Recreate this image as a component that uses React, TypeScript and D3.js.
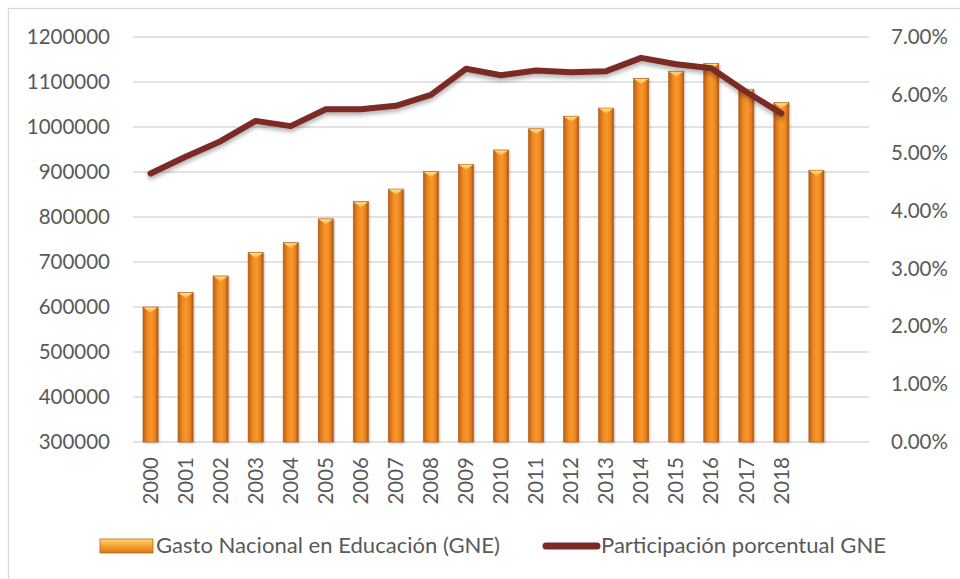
import { useEffect, useRef } from 'react';
import * as d3 from 'd3';

// categories (last two slots have no label)
const years = ['2000', '2001', '2002', '2003', '2004', '2005', '2006', '2007', '2008', '2009',
    '2010', '2011', '2012', '2013', '2014', '2015', '2016', '2017', '2018', '', ''];

// Gasto Nacional en Educación (GNE)
const gasto = [600000, 632000, 669000, 721000, 743000, 796000, 834000, 862000, 901000, 917000,
    949000, 996000, 1024000, 1042000, 1108000, 1124000, 1141000, 1084000, 1054000, 904000];

// Participación porcentual GNE (%)
const participacion = [4.64, 4.93, 5.20, 5.55, 5.46, 5.75, 5.75, 5.81, 6.00, 6.45,
    6.34, 6.42, 6.39, 6.41, 6.64, 6.53, 6.46, 6.05, 5.68];

const leftTicks = [300000, 400000, 500000, 600000, 700000, 800000, 900000, 1000000, 1100000, 1200000];
const rightTicks = [0, 1, 2, 3, 4, 5, 6, 7];

const barLabel = 'Gasto Nacional en Educación (GNE)';
const lineLabel = 'Participación porcentual GNE';

export default function App() {
    const ref = useRef<SVGSVGElement>(null);

    useEffect(() => {
        const width = 960;
        const height = 579;
        const left = 133;
        const right = 869;
        const top = 37;
        const bottom = 442;
        const font = 'Lato, "Open Sans", sans-serif';
        const textColor = '#595959';

        const svg = d3.select(ref.current);
        svg.selectAll('*').remove();

        const defs = svg.append('defs');

        // bar gradient (darker edges, light middle)
        const barGrad = defs.append('linearGradient').attr('id', 'barGrad')
            .attr('x1', '0%').attr('x2', '100%').attr('y1', '0%').attr('y2', '0%');
        barGrad.append('stop').attr('offset', '0%').attr('stop-color', '#B95E16');
        barGrad.append('stop').attr('offset', '30%').attr('stop-color', '#EE8A22');
        barGrad.append('stop').attr('offset', '55%').attr('stop-color', '#F9972C');
        barGrad.append('stop').attr('offset', '80%').attr('stop-color', '#E98320');
        barGrad.append('stop').attr('offset', '100%').attr('stop-color', '#A95512');

        const capGrad = defs.append('linearGradient').attr('id', 'capGrad')
            .attr('x1', '0%').attr('x2', '0%').attr('y1', '0%').attr('y2', '100%');
        capGrad.append('stop').attr('offset', '0%').attr('stop-color', '#FFE08A');
        capGrad.append('stop').attr('offset', '100%').attr('stop-color', '#F6B23A');

        const legGrad = defs.append('linearGradient').attr('id', 'legGrad')
            .attr('x1', '0%').attr('x2', '0%').attr('y1', '0%').attr('y2', '100%');
        legGrad.append('stop').attr('offset', '0%').attr('stop-color', '#FFD874');
        legGrad.append('stop').attr('offset', '45%').attr('stop-color', '#F7A633');
        legGrad.append('stop').attr('offset', '100%').attr('stop-color', '#D9741A');

        const shadow = defs.append('filter').attr('id', 'lineShadow')
            .attr('x', '-5%').attr('y', '-20%').attr('width', '110%').attr('height', '160%');
        shadow.append('feDropShadow').attr('dx', 0).attr('dy', 3).attr('stdDeviation', 2)
            .attr('flood-color', '#000').attr('flood-opacity', 0.3);

        const barShadow = defs.append('filter').attr('id', 'barShadow')
            .attr('x', '-30%').attr('y', '-5%').attr('width', '160%').attr('height', '110%');
        barShadow.append('feDropShadow').attr('dx', 1).attr('dy', 1).attr('stdDeviation', 1.2)
            .attr('flood-color', '#000').attr('flood-opacity', 0.25);

        // chart border
        svg.append('rect')
            .attr('x', 8.5).attr('y', 8.5)
            .attr('width', width).attr('height', height)
            .attr('fill', '#fff')
            .attr('stroke', '#D9D9D9')
            .attr('stroke-width', 1.3);

        // scales
        const x = d3.scaleBand<number>()
            .domain(years.map((d, i) => i))
            .range([left, right]);

        const yLeft = d3.scaleLinear().domain([300000, 1200000]).range([bottom, top]);
        const yRight = d3.scaleLinear().domain([0, 7]).range([bottom, top]);

        // gridlines
        svg.append('g').selectAll('line')
            .data(leftTicks).enter()
            .append('line')
            .attr('x1', left).attr('x2', right)
            .attr('y1', d => yLeft(d)).attr('y2', d => yLeft(d))
            .attr('stroke', '#D9D9D9')
            .attr('stroke-width', 1.5);

        // left axis labels
        svg.append('g').selectAll('text')
            .data(leftTicks).enter()
            .append('text')
            .attr('x', 110)
            .attr('y', d => yLeft(d))
            .attr('dy', '0.35em')
            .attr('text-anchor', 'end')
            .attr('font-family', font)
            .attr('font-size', 20.5)
            .attr('fill', textColor)
            .text(d => String(d));

        // right axis labels
        svg.append('g').selectAll('text')
            .data(rightTicks).enter()
            .append('text')
            .attr('x', 891)
            .attr('y', d => yRight(d))
            .attr('dy', '0.35em')
            .attr('text-anchor', 'start')
            .attr('font-family', font)
            .attr('font-size', 20.5)
            .attr('fill', textColor)
            .text(d => d.toFixed(2) + '%');

        // x labels, rotated
        svg.append('g').selectAll('text')
            .data(years).enter()
            .append('text')
            .attr('transform', (d, i) => 'translate(' + (x(i)! + x.bandwidth() / 2) + ',' + 457 + ') rotate(-90)')
            .attr('dy', '0.35em')
            .attr('text-anchor', 'end')
            .attr('font-family', font)
            .attr('font-size', 20.5)
            .attr('fill', textColor)
            .text(d => d);

        // bars
        const barW = x.bandwidth() * 0.43;
        const bars = svg.append('g').selectAll('g')
            .data(gasto).enter()
            .append('g')
            .attr('filter', 'url(#barShadow)');

        bars.append('rect')
            .attr('x', (d, i) => x(i)! + (x.bandwidth() - barW) / 2)
            .attr('y', d => yLeft(d))
            .attr('width', barW)
            .attr('height', d => bottom - yLeft(d))
            .attr('fill', 'url(#barGrad)')
            .attr('stroke', '#B25B15')
            .attr('stroke-width', 0.6);

        // bevelled cap on top of each bar
        bars.append('path')
            .attr('d', (d, i) => {
                const x0 = x(i)! + (x.bandwidth() - barW) / 2;
                const y0 = yLeft(d);
                return 'M' + (x0 + 0.5) + ',' + (y0 + 0.5) + 'L' + (x0 + barW - 0.5) + ',' + (y0 + 0.5)
                    + 'L' + (x0 + barW / 2) + ',' + (y0 + 5.5) + 'Z';
            })
            .attr('fill', 'url(#capGrad)');

        // line
        const line = d3.line<number>()
            .x((d, i) => x(i)! + x.bandwidth() / 2)
            .y(d => yRight(d));

        svg.append('path')
            .datum(participacion)
            .attr('d', line)
            .attr('fill', 'none')
            .attr('stroke', '#7B2A27')
            .attr('stroke-width', 6)
            .attr('stroke-linejoin', 'round')
            .attr('stroke-linecap', 'round')
            .attr('filter', 'url(#lineShadow)');

        // legend
        const legY = 546;
        const leg = svg.append('g');
        leg.append('rect')
            .attr('x', 100).attr('y', legY - 7)
            .attr('width', 53).attr('height', 14)
            .attr('fill', 'url(#legGrad)')
            .attr('stroke', '#B8631A')
            .attr('stroke-width', 0.8);
        leg.append('text')
            .attr('x', 156).attr('y', legY)
            .attr('dy', '0.35em')
            .attr('font-family', font)
            .attr('font-size', 20.5)
            .attr('fill', textColor)
            .attr('textLength', 344)
            .attr('lengthAdjust', 'spacingAndGlyphs')
            .text(barLabel);

        leg.append('line')
            .attr('x1', 546).attr('x2', 597)
            .attr('y1', legY).attr('y2', legY)
            .attr('stroke', '#7B2A27')
            .attr('stroke-width', 7)
            .attr('stroke-linecap', 'round');
        leg.append('text')
            .attr('x', 601).attr('y', legY)
            .attr('dy', '0.35em')
            .attr('font-family', font)
            .attr('font-size', 20.5)
            .attr('fill', textColor)
            .attr('textLength', 285)
            .attr('lengthAdjust', 'spacingAndGlyphs')
            .text(lineLabel);
    }, []);

    return (
        <svg ref={ref} width={960} height={579}
            style={{ position: 'absolute', left: 0, top: 0, display: 'block' }} />
    );
}
